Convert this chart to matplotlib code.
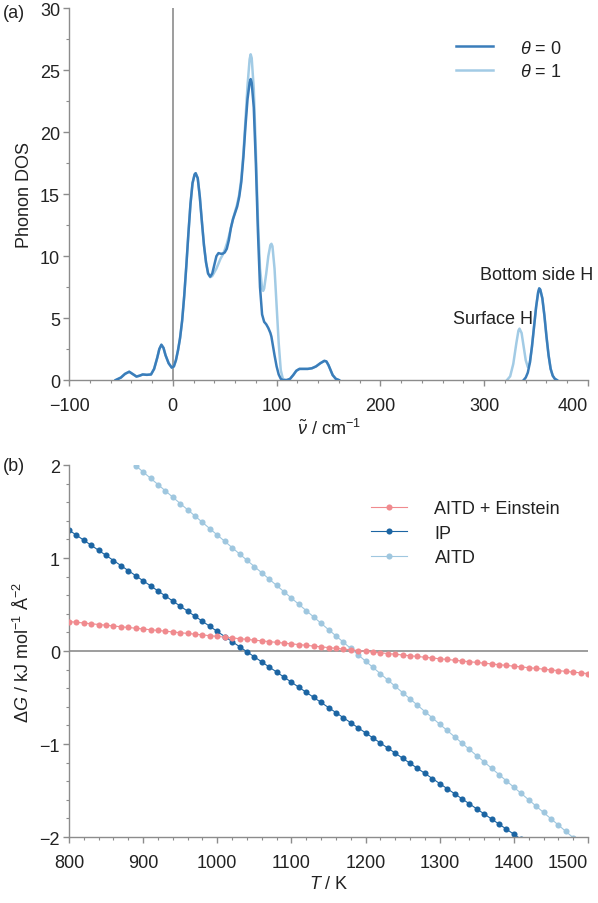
import numpy as np
import matplotlib
matplotlib.use("Agg")
import matplotlib.pyplot as plt
from matplotlib.ticker import MultipleLocator
from matplotlib.lines import Line2D

plt.rcParams['font.family'] = ['Liberation Sans', 'DejaVu Sans']
plt.rcParams['mathtext.fontset'] = 'custom'
plt.rcParams['mathtext.rm'] = 'Liberation Sans'
plt.rcParams['mathtext.it'] = 'Liberation Sans:italic'

nan = np.nan
# ---- panel (a) data: phonon DOS ----
nu = [-55, -50, -46, -42, -38, -35, -32, -29, -25, -21, -18, -15, -13, -11, -9, -7, -4, -1,
      1, 3, 5, 7, 9, 11, 13, 15, 17, 19, 21, 22, 24, 26, 28, 30, 32, 34, 36, 38, 40, 42, 44,
      46, 48, 50, 52, 54, 56, 58, 60, 62, 64, 66, 68, 70, 72, 74, 75, 76, 78, 80, 82, 84, 86,
      87, 88, 90, 92, 94, 95, 96, 98, 100, 102, 104, 106, 108, 110, 113, 116, 119, 122, 126,
      130, 134, 138, 142, 146, 148, 150, 152, 154, 157, 160, 200, 300, 320, 322, 325, 328,
      331, 333, 334, 336, 338, 340, 342, 344, 346, 348, 350, 352, 353, 354, 356, 358, 360,
      362, 364, 366, 368, 370, 380]
dos_theta0 = [0, 0.2, 0.5, 0.67, 0.45, 0.28, 0.35, 0.45, 0.42, 0.45, 0.9, 1.8, 2.5, 2.85, 2.6, 2.0, 1.35, 1.0,
              1.1, 1.6, 2.4, 3.4, 4.8, 6.8, 9.2, 11.8, 14.2, 15.9, 16.6, 16.7, 16.3, 14.8, 12.8, 10.9, 9.5, 8.6, 8.35, 8.6, 9.3, 10.0, 10.25,
              10.2, 10.2, 10.3, 10.6, 11.3, 12.3, 13.0, 13.5, 14.0, 14.8, 16.0, 18.0, 20.5, 22.7, 24.0, 24.3, 24.0, 22.0, 17.5, 12.0, 7.5, 5.3,
              5.0, 4.7, 4.5, 4.2, 3.8, 3.5, 3.0, 2.0, 1.1, 0.45, 0.1, 0.0, 0.0, 0.0, 0.1, 0.4, 0.75, 0.9, 0.9,
              0.9, 0.95, 1.1, 1.35, 1.55, 1.5, 1.2, 0.8, 0.4, 0.1, 0.0, nan, nan, nan, nan, nan, nan,
              nan, nan, nan, nan, 0.0, 0.2, 0.6, 1.4, 2.7, 4.3, 5.9, 7.1, 7.4, 7.3, 6.6, 5.2, 3.5,
              2.0, 0.9, 0.35, 0.1, 0.0, nan]
dos_theta1 = [0, 0.2, 0.5, 0.67, 0.45, 0.28, 0.35, 0.45, 0.42, 0.45, 0.9, 1.8, 2.5, 2.85, 2.6, 2.0, 1.35, 1.0,
              1.1, 1.6, 2.4, 3.4, 4.8, 6.8, 9.2, 11.8, 14.2, 15.9, 16.6, 16.7, 16.3, 14.8, 12.8, 10.9, 9.5, 8.6, 8.3, 8.4, 8.7, 9.0, 9.4,
              9.8, 10.1, 10.5, 11.0, 11.6, 12.3, 13.0, 13.6, 14.2, 15.0, 16.3, 18.3, 21.0, 23.8, 25.9, 26.3, 26.0, 23.5, 18.5, 13.0, 9.0, 7.4,
              7.2, 7.4, 8.6, 10.0, 10.9, 11.0, 10.8, 9.0, 6.0, 3.0, 0.8, 0.1, 0.0, 0.0, 0.1, 0.4, 0.75, 0.9, 0.9,
              0.9, 0.95, 1.1, 1.35, 1.55, 1.5, 1.2, 0.8, 0.4, 0.1, 0.0, nan, nan, nan, 0.0, 0.3, 1.3,
              3.0, 4.0, 4.15, 3.8, 2.7, 1.6, 1.05, 1.4, 2.7, 4.3, 5.9, 7.1, 7.4, 7.3, 6.6, 5.2, 3.5,
              2.0, 0.9, 0.35, 0.1, 0.0, nan]
dos_labels = [r'$\theta$ = 0', r'$\theta$ = 1']
nu_ticks = [-100, 0, 100, 200, 300, 400]

# ---- panel (b) data: Delta G vs T ----
T_all = list(range(800, 1510, 10))
dG_aitd_einstein = [0.317, 0.309, 0.301, 0.293, 0.285, 0.277, 0.269, 0.261, 0.253, 0.245,
                    0.237, 0.229, 0.221, 0.213, 0.205, 0.197, 0.189, 0.181, 0.173, 0.165,
                    0.157, 0.149, 0.141, 0.133, 0.125, 0.117, 0.109, 0.101, 0.093, 0.085,
                    0.077, 0.069, 0.061, 0.053, 0.045, 0.037, 0.029, 0.021, 0.013, 0.005,
                    -0.003, -0.011, -0.019, -0.027, -0.035, -0.043, -0.051, -0.059, -0.067, -0.075,
                    -0.083, -0.091, -0.099, -0.107, -0.115, -0.123, -0.131, -0.139, -0.147, -0.155,
                    -0.163, -0.171, -0.179, -0.187, -0.195, -0.203, -0.211, -0.219, -0.227, -0.235,
                    -0.243]
T_ip = list(range(800, 1420, 10))
dG_ip = [1.300, 1.246, 1.191, 1.137, 1.082, 1.028, 0.973, 0.919, 0.864, 0.810,
         0.755, 0.701, 0.646, 0.592, 0.537, 0.483, 0.428, 0.374, 0.319, 0.265,
         0.210, 0.156, 0.101, 0.047, -0.008, -0.063, -0.117, -0.172, -0.226, -0.281,
         -0.335, -0.390, -0.444, -0.499, -0.553, -0.608, -0.662, -0.717, -0.771, -0.826,
         -0.880, -0.935, -0.989, -1.044, -1.098, -1.153, -1.207, -1.262, -1.316, -1.371,
         -1.425, -1.480, -1.534, -1.589, -1.643, -1.698, -1.752, -1.807, -1.861, -1.916,
         -1.970, -2.025]
T_aitd = list(range(890, 1490, 10))
dG_aitd = [1.993, 1.925, 1.858, 1.790, 1.722, 1.654, 1.586, 1.519, 1.451, 1.383,
           1.315, 1.247, 1.180, 1.112, 1.044, 0.976, 0.908, 0.841, 0.773, 0.705,
           0.637, 0.569, 0.502, 0.434, 0.366, 0.298, 0.230, 0.163, 0.095, 0.027,
           -0.041, -0.109, -0.176, -0.244, -0.312, -0.380, -0.448, -0.515, -0.583, -0.651,
           -0.719, -0.787, -0.854, -0.922, -0.990, -1.058, -1.126, -1.193, -1.261, -1.329,
           -1.397, -1.465, -1.532, -1.600, -1.668, -1.736, -1.804, -1.871, -1.939, -2.007]
b_labels = ['AITD + Einstein', 'IP', 'AITD']
T_ticks = [800, 900, 1000, 1100, 1200, 1300, 1400, 1500]

c_dark = '#3a7dba'
c_light = '#a2cbe5'
c_pink = '#f08a8e'
c_ip = '#1c65a3'
c_aitd = '#9fc7df'
gray = '#8c8c8c'
txt = '#222222'
FS = 13
MS = 4.4

fig = plt.figure(figsize=(5.98, 9.04), dpi=100)
ax1 = fig.add_axes([0.1154, 0.5785, 0.8679, 0.4110])
ax2 = fig.add_axes([0.1154, 0.0730, 0.8679, 0.4115])

def style(ax):
    for s in ['top', 'right']:
        ax.spines[s].set_visible(False)
    for s in ['left', 'bottom']:
        ax.spines[s].set_color(gray)
        ax.spines[s].set_linewidth(1.0)
    ax.tick_params(which='major', direction='out', length=4, width=1.0, color=gray,
                   labelsize=FS, labelcolor=txt)
    ax.tick_params(which='minor', direction='out', length=2.5, width=0.8, color=gray)
    ax.tick_params(axis='x', which='major', pad=8)
    ax.tick_params(axis='y', which='major', pad=2.5)

def set_xticks(ax, ticks):
    ax.set_xticks(ticks)
    labels = [str(t).replace('-', '\u2212') for t in ticks]
    texts = ax.set_xticklabels(labels)
    texts[-1].set_horizontalalignment('right')
    texts[-1].set_x(ticks[-1])

# ---- (a) ----
ax1.axvline(0, color=gray, lw=1.2, zorder=1)
ax1.plot(nu, dos_theta1, color=c_light, lw=1.8, zorder=2, label=dos_labels[1])
ax1.plot(nu, dos_theta0, color=c_dark, lw=1.8, zorder=3, label=dos_labels[0])
ax1.set_xlim(-100, 400)
ax1.set_ylim(0, 30)
set_xticks(ax1, nu_ticks)
ax1.xaxis.set_minor_locator(MultipleLocator(20))
ax1.yaxis.set_major_locator(MultipleLocator(5))
ax1.yaxis.set_minor_locator(MultipleLocator(2.5))
style(ax1)
ax1.set_xlabel(r'$\tilde{\nu}$ / cm$^{-1}$', fontsize=FS, color=txt, labelpad=3)
ax1.set_ylabel('Phonon DOS', fontsize=FS, color=txt, labelpad=5)
ax1.text(347, 5.0, 'Surface H', ha='right', va='center', fontsize=FS, color=txt)
ax1.text(405, 8.5, 'Bottom side H', ha='right', va='center', fontsize=FS, color=txt, clip_on=False)
h1 = [Line2D([], [], color=c_dark, lw=1.8), Line2D([], [], color=c_light, lw=1.8)]
ax1.legend(h1, dos_labels, loc='upper left', bbox_to_anchor=(0.729, 0.94), frameon=False,
           fontsize=FS, handlelength=2.0, handletextpad=1.5, labelspacing=0.35, borderpad=0,
           labelcolor=txt)

# ---- (b) ----
ax2.axhline(0, color=gray, lw=1.2, zorder=1)
ax2.plot(T_all, dG_aitd_einstein, color=c_pink, lw=0.8, marker='o', ms=MS, mec='none', zorder=3)
ax2.plot(T_ip, dG_ip, color=c_ip, lw=0.8, marker='o', ms=MS, mec='none', zorder=2)
ax2.plot(T_aitd, dG_aitd, color=c_aitd, lw=0.8, marker='o', ms=MS, mec='none', zorder=2)
ax2.set_xlim(800, 1500)
ax2.set_ylim(-2, 2)
set_xticks(ax2, T_ticks)
ax2.xaxis.set_minor_locator(MultipleLocator(20))
ax2.yaxis.set_major_locator(MultipleLocator(1))
ax2.yaxis.set_minor_locator(MultipleLocator(0.2))
style(ax2)
ax2.set_xlabel(r'$T$ / K', fontsize=FS, color=txt, labelpad=3)
ax2.set_ylabel(r'$\Delta G$ / kJ mol$^{-1}$ Å$^{-2}$', fontsize=FS, color=txt, labelpad=5)
h2 = [Line2D([], [], color=c, lw=0.8, marker='o', ms=MS, mec='none') for c in (c_pink, c_ip, c_aitd)]
ax2.legend(h2, b_labels, loc='upper left', bbox_to_anchor=(0.565, 0.93), frameon=False,
           fontsize=FS, handlelength=2.0, handletextpad=1.5, labelspacing=0.42, borderpad=0,
           labelcolor=txt)

fig.text(3/598, 1 - 14/904, '(a)', fontsize=FS, color=txt, va='center', ha='left')
fig.text(3/598, 1 - 467/904, '(b)', fontsize=FS, color=txt, va='center', ha='left')

fig.savefig('out.png', dpi=100)
